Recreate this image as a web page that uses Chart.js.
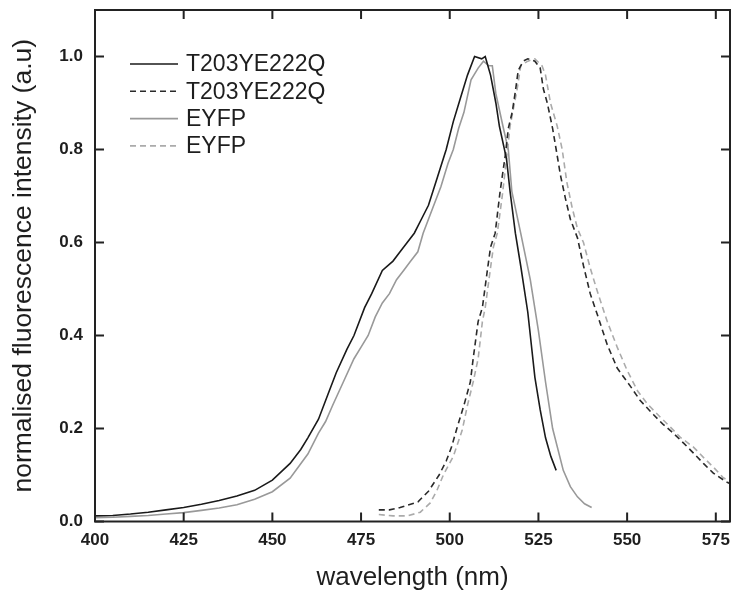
<!DOCTYPE html>
<html lang="en">
<head>
<meta charset="UTF-8">
<title>Fluorescence spectra</title>
<script src="https://cdn.jsdelivr.net/npm/chart.js"></script>
<style>
  html, body { margin: 0; padding: 0; background: #fff; }
</style>
</head>
<body>
<canvas id="grafico" width="732" height="597"></canvas>

<script>
// values: wavelength (nm) / normalised intensity
const wlT203Solid = [400, 405, 410, 415, 420, 425, 430, 435, 440, 445, 450, 455, 458, 460, 463, 466, 468, 471, 473, 476, 478, 481, 484, 486, 488, 490, 492, 494, 496.5, 499, 501, 503, 505, 507, 509, 510, 511.5, 513, 514, 516, 517, 518.5, 520, 522, 524, 525.5, 527, 528.5, 530]
const valT203Solid = [0.012, 0.013, 0.016, 0.02, 0.025, 0.03, 0.037, 0.045, 0.055, 0.067, 0.089, 0.125, 0.155, 0.18, 0.22, 0.28, 0.32, 0.37, 0.40, 0.46, 0.49, 0.54, 0.56, 0.58, 0.60, 0.62, 0.65, 0.68, 0.74, 0.80, 0.86, 0.91, 0.96, 1.0, 0.995, 1.0, 0.96, 0.90, 0.85, 0.78, 0.71, 0.62, 0.55, 0.45, 0.31, 0.24, 0.18, 0.14, 0.11]

const wlT203Dash = [480, 483, 486, 488, 491, 494, 497, 499, 500.5, 502, 504, 505.8, 506.6, 508, 509.2, 510.6, 511.5, 512.8, 514.2, 515.7, 516.5, 517.6, 518.5, 519.3, 520.7, 522, 524, 525.5, 526.4, 527.5, 529, 530, 531.2, 532.6, 534, 536, 537.7, 539.6, 541.6, 544.4, 547.2, 551, 553.7, 557.4, 560, 563, 566, 568.7, 571.5, 574.3, 578, 580]
const valT203Dash = [0.025, 0.025, 0.03, 0.035, 0.042, 0.065, 0.10, 0.13, 0.16, 0.20, 0.25, 0.30, 0.35, 0.43, 0.46, 0.54, 0.59, 0.62, 0.71, 0.79, 0.845, 0.88, 0.925, 0.97, 0.99, 0.995, 0.99, 0.975, 0.93, 0.90, 0.845, 0.80, 0.745, 0.695, 0.65, 0.61, 0.55, 0.49, 0.445, 0.38, 0.33, 0.29, 0.26, 0.23, 0.21, 0.19, 0.168, 0.147, 0.125, 0.104, 0.085, 0.078]

const wlEyfpSolid = [400, 405, 410, 415, 420, 425, 430, 435, 440, 445, 450, 455, 460, 463, 465, 467, 470, 473, 475, 477, 479, 481, 483, 485, 487, 489, 491, 492.5, 494, 495.5, 497.5, 499.5, 501, 502.5, 504, 506, 508, 509.5, 511, 512, 513, 515, 516.5, 517.5, 520, 522.7, 525, 527, 529, 532, 534, 536, 538, 540]
const valEyfpSolid = [0.008, 0.009, 0.011, 0.013, 0.016, 0.019, 0.024, 0.029, 0.036, 0.048, 0.064, 0.093, 0.145, 0.19, 0.215, 0.25, 0.30, 0.35, 0.375, 0.40, 0.44, 0.47, 0.49, 0.52, 0.54, 0.56, 0.58, 0.62, 0.65, 0.68, 0.72, 0.77, 0.80, 0.845, 0.88, 0.95, 0.975, 0.99, 0.98, 0.98, 0.92, 0.85, 0.80, 0.71, 0.62, 0.52, 0.41, 0.30, 0.20, 0.11, 0.075, 0.053, 0.038, 0.03]

const wlEyfpDash = [480, 484, 488, 491.7, 494.5, 496.4, 498.2, 501, 503.5, 505, 506.6, 508, 509.2, 510, 511.4, 512.3, 513.4, 514.8, 516, 517, 519, 520, 522, 524, 526, 527, 528.4, 530.3, 531.7, 533, 534.5, 536, 537.7, 539.6, 541.6, 544.4, 547.2, 550, 553, 555.7, 559.4, 562.2, 565, 568.7, 571.5, 574.3, 577, 580]
const valEyfpDash = [0.015, 0.012, 0.012, 0.02, 0.04, 0.067, 0.10, 0.14, 0.196, 0.25, 0.30, 0.35, 0.43, 0.46, 0.54, 0.59, 0.62, 0.70, 0.78, 0.85, 0.93, 0.98, 0.99, 0.995, 0.98, 0.96, 0.90, 0.85, 0.80, 0.73, 0.675, 0.63, 0.60, 0.545, 0.495, 0.43, 0.375, 0.325, 0.28, 0.253, 0.224, 0.203, 0.181, 0.16, 0.138, 0.117, 0.095, 0.08]

const seriesLabels = ['T203YE222Q', 'T203YE222Q', 'EYFP', 'EYFP']
const xTicks = [400, 425, 450, 475, 500, 525, 550, 575]
const yTicks = [0, 0.2, 0.4, 0.6, 0.8, 1.0]

const pontos = (xs, ys) => xs.map((x, i) => ({x: x, y: ys[i]}))

const fonte = "Arial, 'Liberation Sans', sans-serif"
const corTexto = '#1e1e1e'

// frame on all four sides with inward tick marks
const moldura = {
    id: 'moldura',
    afterDraw(chart) {
        const {ctx, chartArea: a, scales: {x, y}} = chart
        const tam = 9
        ctx.save()
        ctx.strokeStyle = '#222'
        ctx.lineWidth = 2
        ctx.strokeRect(a.left, a.top, a.right - a.left, a.bottom - a.top)
        ctx.beginPath()
        xTicks.forEach(v => {
            const px = x.getPixelForValue(v)
            ctx.moveTo(px, a.bottom); ctx.lineTo(px, a.bottom - tam)
            ctx.moveTo(px, a.top); ctx.lineTo(px, a.top + tam)
        })
        yTicks.forEach(v => {
            const py = y.getPixelForValue(v)
            ctx.moveTo(a.left, py); ctx.lineTo(a.left + tam, py)
            ctx.moveTo(a.right, py); ctx.lineTo(a.right - tam, py)
        })
        ctx.stroke()
        ctx.restore()
    }
}

// legend drawn inside the plot, top left
const legenda = {
    id: 'legenda',
    afterDraw(chart) {
        const {ctx, chartArea: a} = chart
        ctx.save()
        ctx.font = '23px ' + fonte
        ctx.textBaseline = 'middle'
        chart.data.datasets.forEach((ds, i) => {
            const yy = a.top + 54 + i * 27.3
            ctx.strokeStyle = ds.borderColor
            ctx.lineWidth = ds.borderWidth
            ctx.setLineDash(ds.borderDash || [])
            ctx.beginPath()
            ctx.moveTo(a.left + 35, yy)
            ctx.lineTo(a.left + 83, yy)
            ctx.stroke()
            ctx.fillStyle = corTexto
            ctx.fillText(ds.label, a.left + 91, yy + 1)
        })
        ctx.restore()
    }
}

const ctx = document.getElementById('grafico')

let grafico = new Chart(ctx, {
    type: 'line',
    data: {
        datasets: [
            { label: seriesLabels[0], data: pontos(wlT203Solid, valT203Solid), borderColor: '#1a1a1a', borderWidth: 1.6 },
            { label: seriesLabels[1], data: pontos(wlT203Dash, valT203Dash), borderColor: '#2a2a2a', borderWidth: 1.6, borderDash: [6, 4] },
            { label: seriesLabels[2], data: pontos(wlEyfpSolid, valEyfpSolid), borderColor: '#999999', borderWidth: 1.6 },
            { label: seriesLabels[3], data: pontos(wlEyfpDash, valEyfpDash), borderColor: '#ababab', borderWidth: 1.6, borderDash: [6, 4] }
        ]
    },
    options: {
        responsive: false,
        animation: false,
        elements: { point: { radius: 0 }, line: { tension: 0 } },
        layout: { padding: { top: 10, right: 2, left: 0, bottom: 0 } },
        plugins: { legend: { display: false }, tooltip: { enabled: false } },
        scales: {
            x: {
                type: 'linear',
                min: 400,
                max: 579,
                afterBuildTicks: s => { s.ticks = xTicks.map(v => ({value: v})) },
                afterFit: s => { s.height = 75.5; s.paddingLeft = 0; s.paddingRight = 0 },
                grid: { display: false, drawTicks: false },
                border: { display: false },
                ticks: { padding: 9, color: corTexto, font: { family: fonte, size: 17, weight: 'bold' } },
                title: {
                    display: true,
                    text: 'wavelength (nm)',
                    color: corTexto,
                    font: { family: fonte, size: 26 },
                    padding: { top: 0, bottom: 4 }
                }
            },
            y: {
                min: 0,
                max: 1.1,
                afterBuildTicks: s => { s.ticks = yTicks.map(v => ({value: v})) },
                afterFit: s => { s.width = 95; s.paddingTop = 0; s.paddingBottom = 0 },
                grid: { display: false, drawTicks: false },
                border: { display: false },
                ticks: {
                    padding: 12,
                    color: corTexto,
                    font: { family: fonte, size: 17, weight: 'bold' },
                    callback: v => v.toFixed(1)
                },
                title: {
                    display: true,
                    text: 'normalised fluorescence intensity (a.u)',
                    color: corTexto,
                    font: { family: fonte, size: 26.5 },
                    padding: { top: 8, bottom: 0 }
                }
            }
        }
    },
    plugins: [moldura, legenda]
})
</script>
</body>
</html>
